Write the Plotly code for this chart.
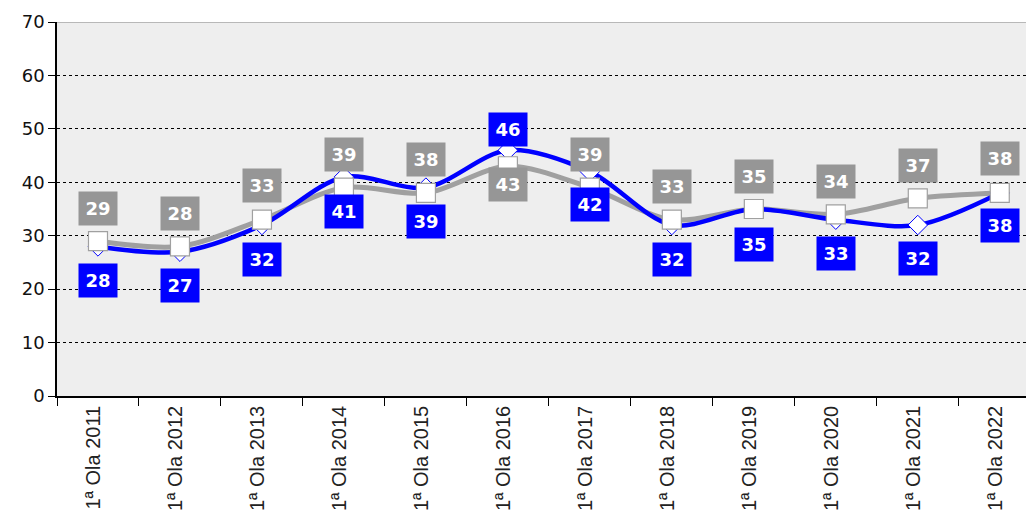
import plotly.graph_objects as go

categories = ["1ª Ola 2011", "1ª Ola 2012", "1ª Ola 2013", "1ª Ola 2014", "1ª Ola 2015",
              "1ª Ola 2016", "1ª Ola 2017", "1ª Ola 2018", "1ª Ola 2019", "1ª Ola 2020",
              "1ª Ola 2021", "1ª Ola 2022"]
blue_values = [28, 27, 32, 41, 39, 46, 42, 32, 35, 33, 32, 38]
gray_values = [29, 28, 33, 39, 38, 43, 39, 33, 35, 34, 37, 38]
y_ticks = [0, 10, 20, 30, 40, 50, 60, 70]

# label placement (pixel offsets from the point)
blue_label_shift = [-34, -34, -34, -35, -34, 21, -33, -34, -35, -34, -33, -33]
gray_label_shift = [33, 33, 34, 33, 33, -18, 33, 33, 33, 33, 33, 34]

BLUE = "#0000FF"
GRAY = "#A0A0A0"
LABEL_GRAY = "#969696"

fig = go.Figure()
fig.add_trace(go.Scatter(x=categories, y=gray_values, mode="lines",
                         line=dict(color=GRAY, width=5, shape="spline", smoothing=0.9),
                         hoverinfo="skip", showlegend=False))
fig.add_trace(go.Scatter(x=categories, y=blue_values, mode="lines+markers",
                         line=dict(color=BLUE, width=4.5, shape="spline", smoothing=0.9),
                         marker=dict(symbol="diamond", size=15, color="white",
                                     line=dict(color=BLUE, width=1)),
                         showlegend=False))
fig.add_trace(go.Scatter(x=categories, y=gray_values, mode="markers",
                         marker=dict(symbol="square", size=19, color="white",
                                     line=dict(color=GRAY, width=1.2)),
                         showlegend=False))

label_font = dict(family="DejaVu Sans", size=18, color="white")
for c, v, s in zip(categories, gray_values, gray_label_shift):
    fig.add_annotation(x=c, y=v, yshift=s, text="<b>%d</b>" % v, showarrow=False,
                       font=label_font, bgcolor=LABEL_GRAY, width=34, height=29,
                       borderpad=2, xanchor="center", yanchor="middle")
for c, v, s in zip(categories, blue_values, blue_label_shift):
    fig.add_annotation(x=c, y=v, yshift=s, text="<b>%d</b>" % v, showarrow=False,
                       font=label_font, bgcolor=BLUE, width=34, height=29,
                       borderpad=2, xanchor="center", yanchor="middle")

# solid top border of plot area
fig.add_shape(type="line", xref="paper", yref="y", x0=0, x1=1, y0=70, y1=70,
              line=dict(color="#A6A6A6", width=1.5), layer="above")

fig.update_layout(
    width=1026, height=516,
    margin=dict(l=57, r=0, t=22, b=120),
    paper_bgcolor="white", plot_bgcolor="#EEEEEE",
    showlegend=False,
    xaxis=dict(type="category", range=[-0.5, 11.32], tickson="boundaries",
               ticks="outside", ticklen=8, tickcolor="black", tickwidth=1.2,
               showline=True, linecolor="black", linewidth=1.5,
               showgrid=False, tickangle=-90, ticklabelshift=-4,
               tickfont=dict(family="Liberation Sans, Arial", size=20, color="#222222")),
    yaxis=dict(range=[0, 70], tickvals=y_ticks, ticks="outside", ticklen=7,
               tickcolor="black", tickwidth=1.2,
               showline=True, linecolor="black", linewidth=1.5,
               showgrid=True, gridcolor="black", gridwidth=1, griddash="dot",
               zeroline=False,
               tickfont=dict(family="DejaVu Sans", size=18, color="#111111")),
)

fig.write_html("out.html", config={"displayModeBar": False},
               post_script="document.body.style.margin='0';document.body.style.overflow='hidden';")
